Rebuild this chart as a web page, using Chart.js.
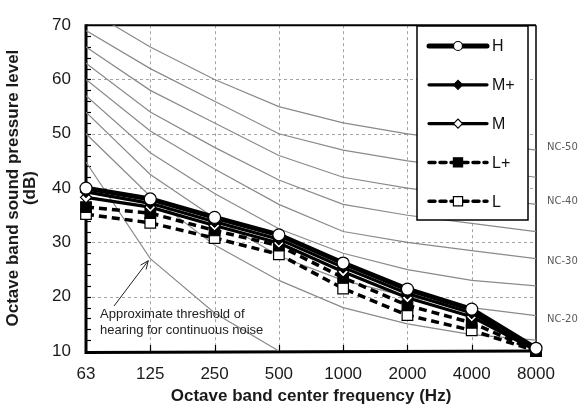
<!DOCTYPE html>
<html>
<head>
<meta charset="utf-8">
<script src="https://cdn.jsdelivr.net/npm/chart.js"></script>
<style>
  html, body { margin: 0; padding: 0; background: #fff; }
  #wrap { width: 582px; height: 414px; }
</style>
</head>
<body>
<div id="wrap"><canvas id="c" width="582" height="414"></canvas></div>
<script>
// ---- data ----
const freqs = ['63', '125', '250', '500', '1000', '2000', '4000', '8000'];
const yTicks = [10, 20, 30, 40, 50, 60, 70];

const seriesH  = [40.0, 38.0, 34.6, 31.4, 26.2, 21.4, 17.7, 10.5];
const seriesMp = [39.3, 37.2, 33.8, 30.6, 25.4, 20.6, 17.0, 10.3];
const seriesM  = [38.3, 36.5, 33.1, 29.9, 24.6, 19.8, 16.3, 10.1];
const seriesLp = [36.5, 35.4, 32.2, 29.4, 23.5, 18.4, 15.2, 10.0];
const seriesL  = [35.2, 33.6, 30.8, 27.8, 21.5, 16.6, 13.8, 10.0];

const nc50 = [73, 66, 60, 55, 52, 50, 48.5, 47];
const nc45 = [69, 62, 56, 50, 47, 45, 43.5, 42];
const nc40 = [66, 58, 52, 46, 42, 40, 38.5, 37];
const nc35 = [63, 54, 47.5, 41.5, 37, 35, 33.5, 32];
const nc30 = [60, 50.5, 43.5, 37, 32, 30, 28.5, 27];
const nc25 = [57, 46.5, 39, 32.5, 28, 25, 23, 22];
const nc20 = [54, 42.5, 34.5, 27.5, 23, 20, 18, 16.5];
const nc15 = [50, 38.5, 29.5, 23, 18, 15, 13, 12];
const threshold = [44.8, 27, 17, 10, null, null, null, null];

const ncLabels = ['NC-50', 'NC-40', 'NC-30', 'NC-20'];
const ncLabelLevels = [47.5, 37.5, 26.5, 15.8];
const noteLines = ['Approximate threshold of', 'hearing for continuous noise'];

// ---- helpers ----
function marker(ctx, style, r, x, y, fill) {
  ctx.save();
  ctx.lineWidth = 1.2;
  ctx.strokeStyle = '#000';
  ctx.fillStyle = fill;
  ctx.setLineDash([]);
  ctx.beginPath();
  if (style === 'circle') {
    ctx.arc(x, y, r, 0, Math.PI * 2);
  } else if (style === 'rect') {
    const s = r * Math.SQRT1_2;
    ctx.rect(x - s, y - s, 2 * s, 2 * s);
  } else if (style === 'rectRot') {
    ctx.moveTo(x - r, y); ctx.lineTo(x, y - r); ctx.lineTo(x + r, y); ctx.lineTo(x, y + r); ctx.closePath();
  }
  ctx.fill();
  ctx.stroke();
  ctx.restore();
}

const dataDefs = [
  { label: 'H',  data: seriesH,  style: 'circle',  fill: '#fff', r: 6,   bw: 5,   dash: [] },
  { label: 'M+', data: seriesMp, style: 'rectRot', fill: '#000', r: 5.5, bw: 3.2, dash: [] },
  { label: 'M',  data: seriesM,  style: 'rectRot', fill: '#fff', r: 5.5, bw: 3.2, dash: [] },
  { label: 'L+', data: seriesLp, style: 'rect',    fill: '#000', r: 7.5, bw: 3.5, dash: [8, 5] },
  { label: 'L',  data: seriesL,  style: 'rect',    fill: '#fff', r: 7.5, bw: 3.5, dash: [8, 5] }
];

const datasets = dataDefs.map(d => ({
  label: d.label,
  data: d.data,
  borderColor: '#000',
  borderWidth: d.bw,
  borderDash: d.dash,
  pointStyle: d.style,
  pointRadius: d.r,
  pointBackgroundColor: d.fill,
  pointBorderColor: '#000',
  pointBorderWidth: 1.2,
  tension: 0,
  clip: false,
  fill: false
}));

[nc50, nc45, nc40, nc35, nc30, nc25, nc20, nc15, threshold].forEach((arr, i) => {
  datasets.push({
    label: 'nc' + i,
    data: arr,
    borderColor: '#8a8a8a',
    borderWidth: 1.2,
    pointRadius: 0,
    tension: 0,
    clip: 0,
    spanGaps: false,
    fill: false
  });
});

const overlay = {
  id: 'overlay',
  beforeDatasetsDraw(chart) {
    const { ctx, chartArea: a, scales: { x, y } } = chart;
    ctx.save();
    // dashed grid
    ctx.strokeStyle = '#a4a4a4';
    ctx.lineWidth = 1;
    ctx.setLineDash([3, 3]);
    yTicks.slice(1, -1).forEach(v => {
      const py = Math.round(y.getPixelForValue(v)) + 0.5;
      ctx.beginPath(); ctx.moveTo(a.left, py); ctx.lineTo(a.right, py); ctx.stroke();
    });
    for (let i = 1; i < freqs.length - 1; i++) {
      const px = Math.round(x.getPixelForValue(i)) + 0.5;
      ctx.beginPath(); ctx.moveTo(px, a.top); ctx.lineTo(px, a.bottom); ctx.stroke();
    }
    ctx.setLineDash([]);
    ctx.strokeStyle = '#000';
    // top & right
    ctx.lineWidth = 2;
    ctx.beginPath(); ctx.moveTo(a.left, a.top); ctx.lineTo(a.right, a.top); ctx.stroke();
    ctx.lineWidth = 1.5;
    ctx.beginPath(); ctx.moveTo(a.right, a.top); ctx.lineTo(a.right, a.bottom); ctx.stroke();
    // left & bottom
    ctx.lineWidth = 3;
    ctx.beginPath(); ctx.moveTo(a.left, a.top - 1); ctx.lineTo(a.left, a.bottom + 1.5); ctx.lineTo(a.right + 1, a.bottom); ctx.stroke();
    // inward minor ticks y
    ctx.lineWidth = 1.2;
    for (let v = 12; v < 70; v += 2) {
      const py = Math.round(y.getPixelForValue(v)) + 0.5;
      ctx.beginPath(); ctx.moveTo(a.left, py); ctx.lineTo(a.left + 5, py); ctx.stroke();
    }
    // inward ticks x
    for (let i = 1; i < freqs.length - 1; i++) {
      const px = Math.round(x.getPixelForValue(i)) + 0.5;
      ctx.beginPath(); ctx.moveTo(px, a.bottom); ctx.lineTo(px, a.bottom - 6); ctx.stroke();
    }
    ctx.restore();
  },
  afterDatasetsDraw(chart) {
    const { ctx, chartArea: a, scales: { x, y } } = chart;
    ctx.save();
    // legend box
    const lx = 417, ly = 26, lw = 111, lh = 194;
    ctx.fillStyle = '#fff';
    ctx.fillRect(lx, ly, lw, lh);
    ctx.strokeStyle = '#000';
    ctx.lineWidth = 1.5;
    ctx.setLineDash([]);
    ctx.strokeRect(lx, ly, lw, lh);
    dataDefs.forEach((d, i) => {
      const cy = 46 + i * 38.8;
      ctx.save();
      ctx.strokeStyle = '#000';
      ctx.lineWidth = d.bw;
      ctx.lineCap = 'round';
      ctx.setLineDash(d.dash.length ? [6, 5] : []);
      ctx.beginPath(); ctx.moveTo(429, cy); ctx.lineTo(487, cy); ctx.stroke();
      ctx.restore();
      marker(ctx, d.style, d.style === 'rect' ? 6.5 : 4.5, 458, cy, d.fill);
      ctx.fillStyle = '#111';
      ctx.font = '16px "Liberation Sans", Arial, sans-serif';
      ctx.textAlign = 'left';
      ctx.textBaseline = 'middle';
      ctx.fillText(d.label, 492, cy + 1);
    });
    // NC labels
    ctx.fillStyle = '#5a5a5a';
    ctx.font = '10px "DejaVu Sans", sans-serif';
    ctx.textAlign = 'left';
    ctx.textBaseline = 'middle';
    ncLabels.forEach((t, i) => {
      ctx.fillText(t, a.right + 11, y.getPixelForValue(ncLabelLevels[i]));
    });
    // note text
    ctx.fillStyle = '#222';
    ctx.font = '13px "Liberation Sans", Arial, sans-serif';
    ctx.textBaseline = 'alphabetic';
    ctx.fillText(noteLines[0], 100, 318);
    ctx.fillText(noteLines[1], 100, 334);
    // arrow to threshold curve at 125 Hz
    const tx = x.getPixelForValue(1) - 2, ty = y.getPixelForValue(threshold[1]) + 2;
    const sx = 114, sy = 306;
    ctx.strokeStyle = '#222';
    ctx.lineWidth = 1;
    ctx.beginPath(); ctx.moveTo(sx, sy); ctx.lineTo(tx, ty); ctx.stroke();
    const ang = Math.atan2(ty - sy, tx - sx);
    ctx.beginPath();
    ctx.moveTo(tx - 9 * Math.cos(ang - 0.4), ty - 9 * Math.sin(ang - 0.4));
    ctx.lineTo(tx, ty);
    ctx.lineTo(tx - 9 * Math.cos(ang + 0.4), ty - 9 * Math.sin(ang + 0.4));
    ctx.stroke();
    ctx.restore();
  }
};

new Chart(document.getElementById('c'), {
  type: 'line',
  data: { labels: freqs, datasets },
  options: {
    responsive: false,
    animation: false,
    devicePixelRatio: 1,
    layout: { padding: { left: 0, right: 46, top: 13, bottom: 0 } },
    plugins: { legend: { display: false }, tooltip: { enabled: false } },
    scales: {
      x: {
        type: 'category',
        offset: false,
        afterFit(s) { s.height = 63; },
        grid: { display: false, drawTicks: false },
        border: { display: false },
        ticks: {
          color: '#1a1a1a',
          font: { family: '"Liberation Sans", Arial, sans-serif', size: 17 },
          padding: 13,
          maxRotation: 0,
          autoSkip: false
        },
        title: {
          display: true,
          text: 'Octave band center frequency (Hz)',
          color: '#1a1a1a',
          font: { family: '"Liberation Sans", Arial, sans-serif', size: 17, weight: 'bold', lineHeight: 1.2 },
          padding: { top: 0, bottom: 7 }
        }
      },
      y: {
        min: 10,
        max: 70,
        afterFit(s) { s.width = 86; },
        afterBuildTicks(s) { s.ticks = yTicks.map(v => ({ value: v })); },
        grid: { display: false, drawTicks: false },
        border: { display: false },
        ticks: {
          color: '#1a1a1a',
          font: { family: '"Liberation Sans", Arial, sans-serif', size: 17 },
          padding: 15
        },
        title: {
          display: true,
          text: ['Octave band sound pressure level', '(dB)'],
          color: '#1a1a1a',
          font: { family: '"Liberation Sans", Arial, sans-serif', size: 17, weight: 'bold', lineHeight: 1.05 },
          padding: { top: 4, bottom: 0 }
        }
      }
    }
  },
  plugins: [overlay]
});
</script>
</body>
</html>
